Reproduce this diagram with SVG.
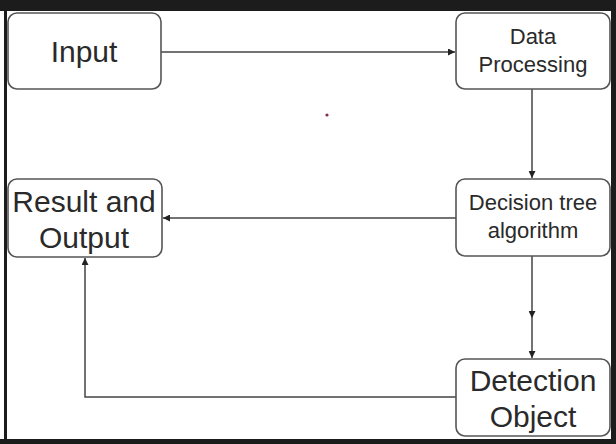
<svg xmlns="http://www.w3.org/2000/svg" width="616" height="444" viewBox="0 0 616 444">
<style>
.box{fill:#fff;stroke:#555;stroke-width:1.6}
.t{font-family:"Liberation Sans",Arial,sans-serif;fill:#2a2a2a;text-anchor:middle}
.big{font-size:30px}
.sm{font-size:22px}
.e{fill:none;stroke:#444;stroke-width:1.5}
</style>
<defs>
<marker id="ah" viewBox="0 0 10 10" refX="10" refY="5" markerWidth="7" markerHeight="7" markerUnits="userSpaceOnUse" orient="auto">
<path d="M0,0 L10,5 L0,10 z" fill="#222"/>
</marker>
</defs>
<rect x="0" y="0" width="616" height="444" fill="#fff"/>
<g id="frame" fill="#1c1c1c">
<rect x="0" y="0" width="616" height="11"/>
<rect x="4" y="0" width="3" height="444"/>
<rect x="611" y="0" width="5" height="444"/>
<rect x="0" y="439" width="616" height="5"/>
</g>
<circle cx="327" cy="115" r="1.6" fill="#8a2a50"/>
<g id="connectors">
<line class="e" x1="161" y1="52" x2="455" y2="52" marker-end="url(#ah)"/>
<line class="e" x1="532" y1="89" x2="532" y2="178" marker-end="url(#ah)"/>
<line class="e" x1="456" y1="218" x2="163" y2="218" marker-end="url(#ah)"/>
<line class="e" x1="532" y1="256" x2="532" y2="318" marker-end="url(#ah)"/>
<line class="e" x1="532" y1="318" x2="532" y2="358" marker-end="url(#ah)"/>
<polyline class="e" points="456,397 85,397 85,258" marker-end="url(#ah)"/>
</g>
<g id="input">
<rect class="box" x="8" y="13" width="153" height="76" rx="9"/>
<text class="t big" x="84" y="62">Input</text>
</g>
<g id="data-processing">
<rect class="box" x="456" y="13" width="154" height="76" rx="9"/>
<text class="t sm" x="533" y="44">Data</text>
<text class="t sm" x="533" y="72">Processing</text>
</g>
<g id="result-output">
<rect class="box" x="8" y="179" width="154" height="78" rx="9"/>
<text class="t big" x="84" y="212">Result and</text>
<text class="t big" x="84" y="248">Output</text>
</g>
<g id="decision-tree">
<rect class="box" x="456" y="179" width="154" height="77" rx="9"/>
<text class="t sm" x="533" y="210">Decision tree</text>
<text class="t sm" x="533" y="238">algorithm</text>
</g>
<g id="detection-object">
<rect class="box" x="456" y="359" width="154" height="77" rx="9"/>
<text class="t big" x="533" y="391">Detection</text>
<text class="t big" x="533" y="427">Object</text>
</g>
</svg>
